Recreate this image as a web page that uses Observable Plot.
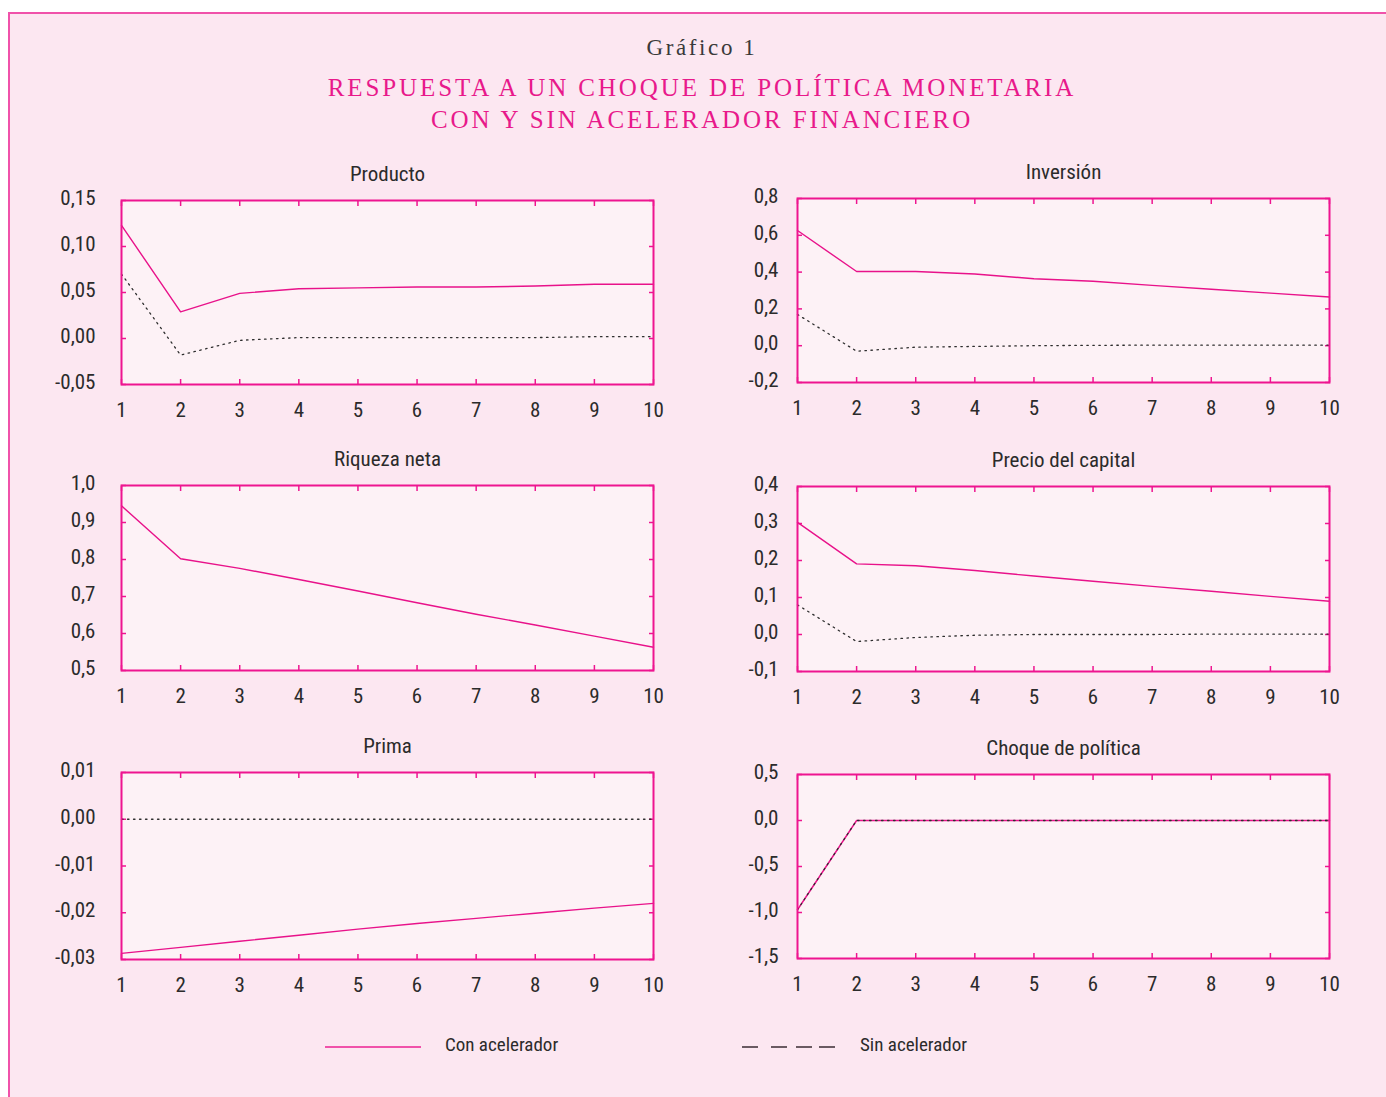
<!DOCTYPE html>
<html>
<head>
<meta charset="utf-8">
<script src="https://cdn.jsdelivr.net/npm/d3@7"></script>
<script src="https://cdn.jsdelivr.net/npm/@observablehq/plot@0.6"></script>
<style>
  html, body { margin: 0; padding: 0; background: #ffffff; }
  #page { position: relative; width: 1386px; height: 1097px; overflow: hidden; }
  #box { position: absolute; left: 8px; top: 12px; width: 1400px; height: 1100px;
         background: #fce7f1; border: 2px solid #f052aa; box-sizing: border-box; }
  .cond { font-family: "Liberation Sans Narrow", "Roboto Condensed", "DejaVu Sans Condensed", "Liberation Sans", sans-serif; font-stretch: condensed; }
  .serif { font-family: "Liberation Serif", "DejaVu Serif", serif; }
  #g1 { position: absolute; left: 0; width: 1404px; top: 35px; text-align: center; font-size: 23px; color: #3a3a3a; letter-spacing: 2.6px; }
  #t1, #t2 { position: absolute; left: 0; width: 1404px; text-align: center; font-size: 25px; color: #e8198b; letter-spacing: 2.9px; }
  #t1 { top: 74px; } #t2 { top: 106px; }
  .panel { position: absolute; }
  .leg { position: absolute; font-size: 19px; color: #2b2b2b; }
</style>
</head>
<body>
<div id="page">
  <div id="box"></div>
  <div id="g1" class="serif">Gráfico 1</div>
  <div id="t1" class="serif">RESPUESTA A UN CHOQUE DE POLÍTICA MONETARIA</div>
  <div id="t2" class="serif">CON Y SIN ACELERADOR FINANCIERO</div>
  <svg style="position:absolute; left:320px; top:1036px;" width="110" height="20">
    <line x1="5" y1="11" x2="101" y2="11" stroke="#f052aa" stroke-width="2"></line>
  </svg>
  <div class="leg cond" style="left:445px; top:1033px;">Con acelerador</div>
  <svg style="position:absolute; left:737px; top:1036px;" width="110" height="20">
    <line x1="5" y1="11" x2="99" y2="11" stroke="#6a5a62" stroke-width="2" stroke-dasharray="16,13,16,9,16,7,16,30"></line>
  </svg>
  <div class="leg cond" style="left:860px; top:1033px;">Sin acelerador</div>
</div>
<script>
// ---- data ----
const periods = [1, 2, 3, 4, 5, 6, 7, 8, 9, 10];

const productoCon = [0.123, 0.029, 0.049, 0.054, 0.055, 0.056, 0.056, 0.057, 0.059, 0.059];
const productoSin = [0.070, -0.018, -0.002, 0.001, 0.001, 0.001, 0.001, 0.001, 0.002, 0.002];

const inversionCon = [0.626, 0.403, 0.403, 0.390, 0.364, 0.350, 0.328, 0.307, 0.286, 0.265];
const inversionSin = [0.170, -0.030, -0.008, -0.004, 0.000, 0.002, 0.003, 0.003, 0.003, 0.003];

const riquezaCon = [0.945, 0.802, 0.776, 0.746, 0.715, 0.683, 0.652, 0.623, 0.593, 0.563];

const precioCon = [0.303, 0.191, 0.186, 0.173, 0.158, 0.144, 0.130, 0.117, 0.103, 0.090];
const precioSin = [0.080, -0.019, -0.008, -0.002, 0.000, 0.000, 0.000, 0.001, 0.001, 0.001];

const primaCon = [-0.0287, -0.0274, -0.0261, -0.0248, -0.0235, -0.0223, -0.0212, -0.0201, -0.0190, -0.0180];
const primaSin = [0, 0, 0, 0, 0, 0, 0, 0, 0, 0];

const choqueCon = [-0.97, 0, 0, 0, 0, 0, 0, 0, 0, 0];
const choqueSin = [-0.97, 0, 0, 0, 0, 0, 0, 0, 0, 0];

const ticksProducto = [-0.05, 0, 0.05, 0.10, 0.15];
const ticksInversion = [-0.2, 0, 0.2, 0.4, 0.6, 0.8];
const ticksRiqueza = [0.5, 0.6, 0.7, 0.8, 0.9, 1.0];
const ticksPrecio = [-0.1, 0, 0.1, 0.2, 0.3, 0.4];
const ticksPrima = [-0.03, -0.02, -0.01, 0, 0.01];
const ticksChoque = [-1.5, -1.0, -0.5, 0, 0.5];

const titles = ["Producto", "Inversión", "Riqueza neta", "Precio del capital", "Prima", "Choque de política"];

// ---- layout ----
const PINK = "#ee1590";
const LINE = "#e8128a";
const FONT = '"Liberation Sans Narrow", "Roboto Condensed", "DejaVu Sans Condensed", "Liberation Sans", sans-serif';
const ML = 80, MR = 30, MT = 50, MB = 45, FW = 532;

function rows(con, sin) {
  const out = [];
  periods.forEach((p, i) => out.push({x: p, y: con[i], s: "Con"}));
  if (sin) periods.forEach((p, i) => out.push({x: p, y: sin[i], s: "Sin"}));
  return out;
}

const panels = [
  {title: titles[0], con: productoCon, sin: productoSin, ticks: ticksProducto, dec: 2, left: 121, top: 200, h: 184, pad: 26},
  {title: titles[1], con: inversionCon, sin: inversionSin, ticks: ticksInversion, dec: 1, left: 797, top: 198, h: 184, pad: 19},
  {title: titles[2], con: riquezaCon, sin: null, ticks: ticksRiqueza, dec: 1, left: 121, top: 485, h: 185, pad: 26},
  {title: titles[3], con: precioCon, sin: precioSin, ticks: ticksPrecio, dec: 1, left: 797, top: 486, h: 185, pad: 19},
  {title: titles[4], con: primaCon, sin: primaSin, ticks: ticksPrima, dec: 2, left: 121, top: 772, h: 187, pad: 26},
  {title: titles[5], con: choqueCon, sin: choqueSin, ticks: ticksChoque, dec: 1, left: 797, top: 774, h: 184, pad: 19}
];

const page = document.getElementById("page");

panels.forEach(pn => {
  const data = rows(pn.con, pn.sin);
  const fmt = d => (Math.abs(d) < 1e-12 ? 0 : d).toFixed(pn.dec).replace(".", ",");
  const marks = [
    Plot.frame({fill: "#fdf2f6", stroke: null}),
    // inward ticks
    Plot.axisX({anchor: "bottom", ticks: periods, tickSize: -5, stroke: PINK, strokeWidth: 1.5, text: null, label: null}),
    Plot.axisX({anchor: "top", ticks: periods, tickSize: -5, stroke: PINK, strokeWidth: 1.5, text: null, label: null}),
    Plot.axisY({anchor: "left", ticks: pn.ticks, tickSize: -5, stroke: PINK, strokeWidth: 1.5, text: null, label: null}),
    Plot.axisY({anchor: "right", ticks: pn.ticks, tickSize: -5, stroke: PINK, strokeWidth: 1.5, text: null, label: null}),
    // labels
    Plot.axisX({anchor: "bottom", ticks: periods, tickSize: 0, tickPadding: 18, tickFormat: d => String(d),
                fill: "#2b2b2b", label: null, fontSize: 21}),
    Plot.axisY({anchor: "left", ticks: pn.ticks, tickSize: 0, tickPadding: pn.pad, tickFormat: fmt,
                fill: "#2b2b2b", label: null, fontSize: 21, dy: -2}),
    Plot.line(data.filter(d => d.s === "Con"), {x: "x", y: "y", stroke: LINE, strokeWidth: 1.4}),
    Plot.line(data.filter(d => d.s === "Sin"), {x: "x", y: "y", stroke: "#2e2e2e", strokeWidth: 1.3, strokeDasharray: "1.5,4.5"}),
    Plot.frame({stroke: PINK, strokeWidth: 2}),
    Plot.text([pn.title], {frameAnchor: "top", lineAnchor: "middle", dy: -26, text: d => d, fontSize: 21, fill: "#2b2b2b"})
  ];
  const chart = Plot.plot({
    width: FW + ML + MR,
    height: pn.h + MT + MB,
    marginLeft: ML, marginRight: MR, marginTop: MT, marginBottom: MB,
    x: {domain: [1, 10], label: null, axis: null},
    y: {domain: [pn.ticks[0], pn.ticks[pn.ticks.length - 1]], label: null, axis: null},
    style: {background: "transparent", fontFamily: FONT, fontSize: "21px", overflow: "visible"},
    marks
  });
  const wrap = document.createElement("div");
  wrap.className = "panel";
  wrap.style.left = (pn.left - ML) + "px";
  wrap.style.top = (pn.top - MT) + "px";
  wrap.appendChild(chart);
  page.appendChild(wrap);
});
</script>
</body>
</html>
